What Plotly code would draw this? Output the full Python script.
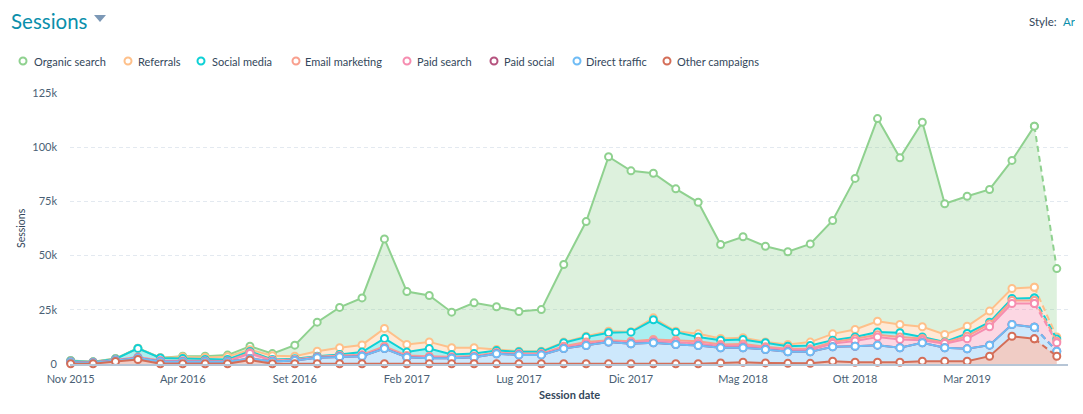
import numpy as np
import plotly.graph_objects as go

# ---------------- data (sessions per month, Nov 2015 .. Jul 2019) ----------------
months = ["2015-11", "2015-12", "2016-01", "2016-02", "2016-03", "2016-04", "2016-05", "2016-06",
          "2016-07", "2016-08", "2016-09", "2016-10", "2016-11", "2016-12", "2017-01", "2017-02",
          "2017-03", "2017-04", "2017-05", "2017-06", "2017-07", "2017-08", "2017-09", "2017-10",
          "2017-11", "2017-12", "2018-01", "2018-02", "2018-03", "2018-04", "2018-05", "2018-06",
          "2018-07", "2018-08", "2018-09", "2018-10", "2018-11", "2018-12", "2019-01", "2019-02",
          "2019-03", "2019-04", "2019-05", "2019-06", "2019-07"]

tick_index = [0, 5, 10, 15, 20, 25, 30, 35, 40]
tick_labels = ["Nov 2015", "Apr 2016", "Set 2016", "Feb 2017", "Lug 2017",
               "Dic 2017", "Mag 2018", "Ott 2018", "Mar 2019"]

y_ticks = [0, 25000, 50000, 75000, 100000, 125000]
y_tick_labels = ["0", "25k", "50k", "75k", "100k", "125k"]

organic_search = [100, 0, 100, 100, 0, 400, 600, 700, 1600, 1000, 5100, 13400, 18600, 21700, 41300,
                  24400, 21400, 16400, 20700, 19700, 18300, 19200, 35800, 52900, 80500, 74200, 66700,
                  65700, 60700, 43300, 46600, 44100, 42800, 45300, 52300, 69700, 93500, 76900, 94300,
                  60300, 60000, 56100, 59100, 74300, 31500]
referrals = [100, 100, 100, 0, 100, 700, 900, 1300, 800, 1700, 1200, 2300, 3100, 3300, 4600, 3500,
             3100, 3100, 2700, 500, 300, 300, 300, 400, 700, 200, 900, 400, 1400, 800, 800, 400, 800,
             1600, 2900, 3400, 4900, 3800, 4700, 3400, 3300, 5100, 4600, 4900, 1000]
social_media = [400, 200, 400, 4000, 1200, 1000, 700, 700, 600, 400, 300, 300, 500, 1200, 3600, 1600,
                3500, 1100, 1100, 900, 800, 800, 1600, 2200, 3400, 4200, 9100, 3700, 2000, 2000, 2100,
                1800, 1200, 1500, 900, 900, 1300, 1900, 700, 300, 1300, 800, 900, 1200, 1000]
email_marketing = [100, 0, 100, 200, 100, 200, 100, 200, 400, 200, 200, 200, 300, 300, 600, 400, 400,
                   300, 300, 300, 300, 300, 600, 900, 500, 600, 700, 1000, 1000, 700, 800, 600, 600,
                   500, 700, 1000, 1100, 1200, 800, 500, 1200, 1300, 1400, 1400, 700]
paid_search = [100, 100, 200, 200, 300, 300, 300, 200, 2300, 300, 300, 200, 300, 400, 500, 400, 500,
               300, 300, 300, 300, 300, 500, 800, 400, 600, 800, 1000, 1000, 800, 900, 700, 800, 900,
               1500, 2400, 3700, 3800, 1200, 1900, 4600, 8500, 9700, 10900, 3900]
paid_social = [0] * 45
direct_traffic = [700, 500, 400, 700, 1100, 900, 900, 900, 700, 1100, 1500, 2800, 3200, 3500, 7000,
                  3000, 2600, 2600, 3000, 4600, 4100, 4100, 7000, 8400, 10000, 9200, 9700, 8900, 8400,
                  7000, 6700, 6200, 5300, 5300, 6600, 7400, 7900, 6700, 8500, 6200, 5700, 5100, 5400,
                  5400, 2300]
other_campaigns = [100, 100, 1200, 2100, 100, 100, 100, 100, 1800, 100, 100, 100, 100, 100, 100, 100,
                   100, 100, 100, 100, 100, 100, 100, 100, 100, 100, 100, 100, 100, 500, 800, 500, 300,
                   300, 1300, 800, 800, 800, 1300, 1300, 1300, 3600, 12800, 11600, 3600]

series_names = ["Organic search", "Referrals", "Social media", "Email marketing",
                "Paid search", "Paid social", "Direct traffic", "Other campaigns"]
series_values = [organic_search, referrals, social_media, email_marketing,
                 paid_search, paid_social, direct_traffic, other_campaigns]
series_colors = ["#8fd18f", "#fec08a", "#0fd1d6", "#f9a08e",
                 "#f68db0", "#b5527e", "#6fbcf5", "#d46e58"]
fill_alpha = [0.30, 0.35, 0.35, 0.35, 0.35, 0.35, 0.35, 0.35]

# ---------------- geometry helpers (screen px -> paper) ----------------
OFF = 8                      # page body margin
W, H = 1075, 398
ML, MR, MT, MB = 62, 15, 85, 42
PW, PH = W - ML - MR, H - MT - MB


def px(x):
    return (x - OFF - ML) / PW


def py(y):
    return (H - MB - (y - OFF)) / PH


def rgba(hex_color, a):
    h = hex_color.lstrip("#")
    r, g, b = int(h[0:2], 16), int(h[2:4], 16), int(h[4:6], 16)
    return f"rgba({r},{g},{b},{a})"


x = np.arange(len(months))
fig = go.Figure()

# stacked fills, bottom (Other campaigns) to top (Organic search)
order_bottom_up = list(range(len(series_names)))[::-1]
for k in order_bottom_up:
    fig.add_trace(go.Scatter(
        x=x, y=series_values[k], stackgroup="sessions", mode="none",
        fillcolor=rgba(series_colors[k], fill_alpha[k]),
        name=series_names[k], showlegend=False, hoverinfo="skip"))

# cumulative tops for lines/markers
stack = np.array([series_values[k] for k in order_bottom_up], dtype=float)
cum = np.cumsum(stack, axis=0)
cum_by_series = {k: cum[i] for i, k in enumerate(order_bottom_up)}

# lines drawn top series first so lower series sit on top (as in reference)
for k in range(len(series_names)):
    c = series_colors[k]
    yk = cum_by_series[k]
    marker = dict(symbol="circle", size=7, color="white", line=dict(color=c, width=2))
    fig.add_trace(go.Scatter(
        x=x[:-1], y=yk[:-1], mode="lines+markers", name=series_names[k],
        line=dict(color=c, width=2), marker=marker, cliponaxis=False,
        showlegend=False, hoverinfo="skip"))
    fig.add_trace(go.Scatter(
        x=x[-2:], y=yk[-2:], mode="lines+markers", name=series_names[k],
        line=dict(color=c, width=2, dash="6px,4px"), marker=marker, cliponaxis=False,
        showlegend=False, hoverinfo="skip"))

# ---------------- custom legend (circle + label) ----------------
legend_marker_x = [23, 128, 201, 296, 407, 494, 577, 667]
legend_text_x = [32, 136, 210, 303, 415, 502, 584, 675]
legend_y = 61
shapes = []
annotations = []
for k in range(len(series_names)):
    shapes.append(dict(type="circle", xref="paper", yref="paper",
                       xsizemode="pixel", ysizemode="pixel",
                       xanchor=px(legend_marker_x[k]), yanchor=py(legend_y),
                       x0=-3.5, x1=3.5, y0=-3.5, y1=3.5,
                       line=dict(color=series_colors[k], width=2), fillcolor="white"))
    annotations.append(dict(text=series_names[k], xref="paper", yref="paper",
                            x=px(legend_text_x[k]), y=py(legend_y), xanchor="left", yanchor="middle",
                            showarrow=False, font=dict(size=11, color="#33475b", family="Lato")))

# title and dropdown triangle
annotations.append(dict(text="Sessions", xref="paper", yref="paper", x=px(10), y=py(8),
                        xanchor="left", yanchor="top", showarrow=False, borderpad=0,
                        font=dict(size=20.5, color="#0a8fab", family="Lato")))
shapes.append(dict(type="path", xref="paper", yref="paper",
                   path=f"M {px(94)} {py(15)} L {px(106)} {py(15)} L {px(100)} {py(22)} Z",
                   fillcolor="#7c98b6", line=dict(width=0)))

# style selector at top right
annotations.append(dict(text="Style:", xref="paper", yref="paper", x=px(1027), y=py(21),
                        xanchor="left", yanchor="middle", showarrow=False,
                        font=dict(size=11.5, color="#33475b", family="Lato")))
annotations.append(dict(text="Are", xref="paper", yref="paper", x=px(1061), y=py(21),
                        xanchor="left", yanchor="middle", showarrow=False,
                        font=dict(size=11.5, color="#0a8fab", family="Lato")))

# axis titles
annotations.append(dict(text="Sessions", xref="paper", yref="paper", x=px(21), y=py(228),
                        xanchor="center", yanchor="middle", textangle=-90, showarrow=False,
                        font=dict(size=10.5, color="#33475b", family="Lato")))
annotations.append(dict(text="<b>Session date</b>", xref="paper", yref="paper", x=px(569), y=py(394),
                        xanchor="center", yanchor="middle", showarrow=False,
                        font=dict(size=11, color="#33475b", family="Lato")))

fig.update_layout(
    width=W, height=H,
    margin=dict(l=ML, r=MR, t=MT, b=MB, pad=0),
    paper_bgcolor="white", plot_bgcolor="white",
    showlegend=False, hovermode=False,
    font=dict(family="Lato", color="#4a5f75", size=11),
    shapes=shapes, annotations=annotations,
    xaxis=dict(range=[-0.03, 44.5], tickvals=tick_index, ticktext=tick_labels,
               showgrid=False, zeroline=False, showline=True, linecolor="#b6c5d6", linewidth=2,
               ticks="", ticklabelstandoff=4, tickfont=dict(size=11, color="#4a5f75")),
    yaxis=dict(range=[0, 125000], tickvals=y_ticks, ticktext=y_tick_labels,
               showgrid=True, gridcolor="#e3e9f0", griddash="4px,3px", gridwidth=1,
               zeroline=False, showline=False, ticks="", ticklabelstandoff=12,
               tickfont=dict(size=11, color="#4a5f75")),
)

fig.write_html("out.html")
